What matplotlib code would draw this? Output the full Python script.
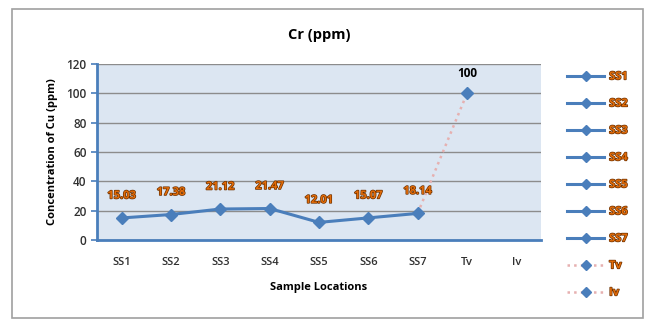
import matplotlib.pyplot as plt
import matplotlib.patheffects as pe
from matplotlib.lines import Line2D
from matplotlib.patches import Rectangle

categories = ['SS1', 'SS2', 'SS3', 'SS4', 'SS5', 'SS6', 'SS7', 'Tv', 'Iv']
ss_values = [15.03, 17.38, 21.12, 21.47, 12.01, 15.07, 18.14]
tv_value = 100
legend_labels = ['SS1', 'SS2', 'SS3', 'SS4', 'SS5', 'SS6', 'SS7', 'Tv', 'Iv']

blue = '#4a7ebb'
pink = '#e6b0b0'
orange = '#e36c09'
plt.rcParams['font.family'] = ['Open Sans', 'DejaVu Sans']

fig = plt.figure(figsize=(6.46, 3.2), dpi=100)
ax = fig.add_axes([97 / 646, 80 / 320, 444 / 646, 176 / 320])
ax.set_facecolor('#dce6f2')

# outer chart border
fig.patches.append(Rectangle((12 / 646, 2 / 320), 631 / 646, 309 / 320, transform=fig.transFigure,
                             fill=False, edgecolor='#a0a0a0', linewidth=1.2))

x_ss = list(range(len(ss_values)))
x_tv = categories.index('Tv')

# dotted connection SS7 -> Tv
ax.plot([x_ss[-1], x_tv], [ss_values[-1], tv_value], linestyle=':', color=pink, linewidth=1.8, zorder=2)
ax.plot(x_ss, ss_values, color=blue, linewidth=2.2, marker='D', markersize=6, zorder=3)
ax.plot([x_tv], [tv_value], color=blue, marker='D', markersize=6, linestyle='none', zorder=3)

label_fx = [pe.withStroke(linewidth=1.0, foreground='#6b3000')]
for x, v in zip(x_ss, ss_values):
    ax.annotate(f'{v:.2f}', (x, v), xytext=(0, 14), textcoords='offset points', ha='center',
                fontsize=8, fontweight='bold', color=orange, path_effects=label_fx)
ax.annotate(f'{tv_value}', (x_tv, tv_value), xytext=(0, 12), textcoords='offset points', ha='center',
            fontsize=8.5, fontweight='bold', color='black')

ax.set_xlim(-0.5, len(categories) - 0.5)
ax.set_ylim(0, 120)
ax.set_yticks(range(0, 121, 20))
ax.set_xticks(range(len(categories)))
ax.set_xticklabels(categories)
ax.tick_params(axis='x', length=0, pad=12, labelsize=8, labelcolor='#303030')
ax.tick_params(axis='y', length=4, width=1.2, color='#4a7ebb', labelsize=8.5, labelcolor='#303030')
for t in ax.get_xticklabels() + ax.get_yticklabels():
    t.set_fontweight('semibold')
ax.grid(axis='y', color='#8c8c8c', linewidth=1)
ax.set_axisbelow(True)
for s in ['top', 'right']:
    ax.spines[s].set_visible(False)
for s in ['left', 'bottom']:
    ax.spines[s].set_color(blue)
    ax.spines[s].set_linewidth(2)

ax.set_title('Cr (ppm)', fontsize=10.5, fontweight='bold', pad=18)
ax.set_xlabel('Sample Locations', fontsize=8, fontweight='bold', labelpad=10)
ax.set_ylabel('Concentration of Cu (ppm)', fontsize=8, fontweight='bold', labelpad=6)

handles = []
for lab in legend_labels:
    if lab in ('Tv', 'Iv'):
        handles.append(Line2D([], [], color=pink, linestyle=':', linewidth=1.8,
                              marker='D', markersize=5, markerfacecolor=blue, markeredgecolor=blue))
    else:
        handles.append(Line2D([], [], color=blue, linewidth=2.2, marker='D', markersize=5))
leg = fig.legend(handles, legend_labels, loc='upper left', bbox_to_anchor=(563 / 646, 1 - 67 / 320),
                 frameon=False, fontsize=8, handlelength=3.3, handletextpad=0.45, labelspacing=1.44,
                 borderaxespad=0)
for t in leg.get_texts():
    t.set_color(orange)
    t.set_fontweight('bold')
    t.set_path_effects(label_fx)

fig.savefig('out.png', dpi=100)
